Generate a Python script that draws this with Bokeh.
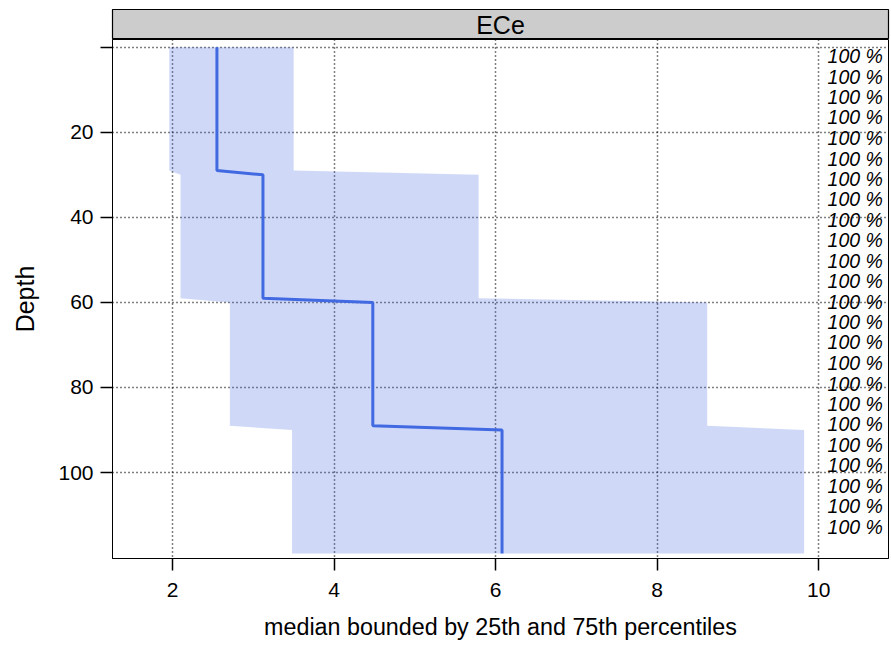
from bokeh.plotting import figure
from bokeh.models import Range1d, FixedTicker, Label, ColumnDataSource
from bokeh.layouts import column
from bokeh.core.properties import value
from bokeh.embed import file_html
from bokeh.resources import INLINE

# ---- data ----
panel_title = "ECe"
depth_breaks = [0, 29, 30, 59, 60, 89, 90, 119]
ece_q25 = [1.96, 1.96, 2.10, 2.10, 2.71, 2.71, 3.48, 3.48]
ece_median = [2.55, 2.55, 3.12, 3.12, 4.48, 4.48, 6.08, 6.08]
ece_q75 = [3.50, 3.50, 5.79, 5.79, 8.62, 8.62, 9.82, 9.82]

contrib_depths = [2.1, 6.9, 11.7, 16.5, 21.3, 26.2, 31.0, 35.8, 40.6, 45.4, 50.2, 55.0,
                  59.8, 64.6, 69.4, 74.3, 79.1, 83.9, 88.7, 93.5, 98.3, 103.1, 107.9, 112.7]
contrib_labels = ["100 %"] * len(contrib_depths)

x_ticks = [2, 4, 6, 8, 10]
y_ticks = [0, 20, 40, 60, 80, 100]
x_lim = (1.257, 10.865)
y_lim = (120.2, -1.8)

FONT = "Liberation Sans"
BLUE = "#4169E1"

p = figure(width=891, height=607, x_range=Range1d(*x_lim), y_range=Range1d(*y_lim),
           toolbar_location=None, output_backend="svg",
           min_border_left=112, min_border_right=3, min_border_top=0, min_border_bottom=88)
p.background_fill_color = "white"
p.border_fill_color = "white"
p.outline_line_color = "black"
p.outline_line_width = 1

# band polygon
band_x = ece_q25 + ece_q75[::-1]
band_y = depth_breaks + depth_breaks[::-1]
p.patch(band_x, band_y, fill_color=BLUE, fill_alpha=0.25, line_color=None)

# median line
src = ColumnDataSource(dict(x=ece_median, y=depth_breaks))
p.line("x", "y", source=src, line_color=BLUE, line_width=3)

# contributing fraction labels
lab_src = ColumnDataSource(dict(x=[x_lim[1] - 0.07] * len(contrib_depths), y=contrib_depths, t=contrib_labels))
p.text("x", "y", text="t", source=lab_src, text_align="right", text_baseline="middle",
       text_font=value(FONT), text_font_style="italic", text_font_size="19.5px", text_color="black")

# axes
p.xaxis.ticker = FixedTicker(ticks=x_ticks)
p.yaxis.ticker = FixedTicker(ticks=y_ticks)
p.yaxis.major_label_overrides = {0: ""}
for ax in (p.xaxis[0], p.yaxis[0]):
    ax.axis_line_color = "black"
    ax.axis_line_width = 1
    ax.major_tick_line_color = "black"
    ax.major_tick_line_width = 1.5
    ax.major_tick_out = 12
    ax.major_tick_in = 0
    ax.minor_tick_line_color = None
    ax.major_label_text_font = FONT
    ax.major_label_text_font_size = "21px"
    ax.major_label_text_color = "black"
    ax.axis_label_text_font = FONT
    ax.axis_label_text_font_style = "normal"
    ax.axis_label_text_color = "black"

p.xaxis.axis_label = "median bounded by 25th and 75th percentiles"
p.xaxis.axis_label_text_font_size = "23.3px"
p.xaxis.major_label_standoff = 12
p.xaxis.axis_label_standoff = 14
p.yaxis.axis_label = "Depth"
p.yaxis.axis_label_text_font_size = "25px"
p.yaxis.major_label_standoff = 7
p.yaxis.axis_label_standoff = 16

# grids
p.xgrid.ticker = FixedTicker(ticks=x_ticks)
p.ygrid.ticker = FixedTicker(ticks=y_ticks)
for g in (p.xgrid[0], p.ygrid[0]):
    g.grid_line_color = "black"
    g.grid_line_dash = "1 3"
    g.grid_line_width = 1.5

# strip
s = figure(width=891, height=39, x_range=p.x_range, y_range=Range1d(0, 1),
           toolbar_location=None, output_backend="svg", x_axis_type=None, y_axis_type=None,
           min_border_left=112, min_border_right=3, min_border_top=9, min_border_bottom=0)
s.grid.visible = False
s.background_fill_color = "#CCCCCC"
s.border_fill_color = "white"
s.outline_line_color = "black"
s.outline_line_width = 1.2
s.add_layout(Label(x=(x_lim[0] + x_lim[1]) / 2, y=0.5, text=panel_title, text_align="center",
                   text_baseline="middle", text_font=FONT, text_font_size="25px", text_color="black"))

layout = column(s, p, spacing=0)
open("out.html", "w").write(file_html(layout, INLINE))
